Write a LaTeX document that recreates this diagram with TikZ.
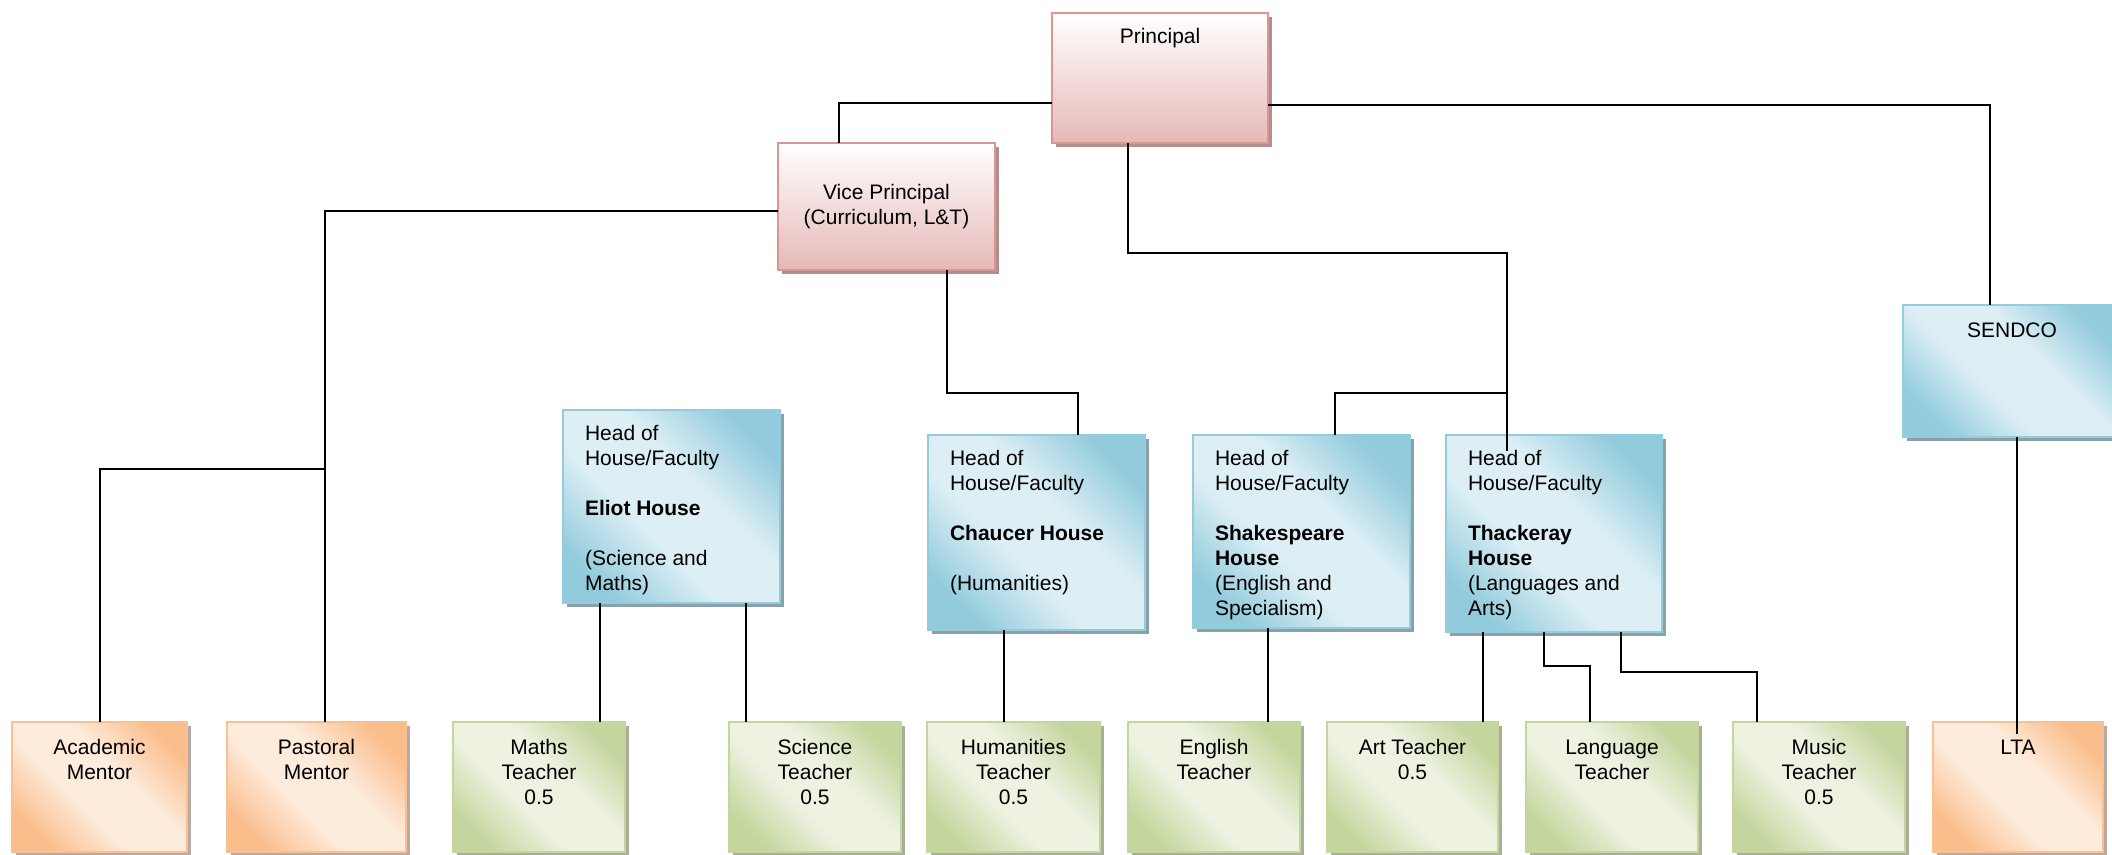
\documentclass[tikz,border=0pt]{standalone}
\usepackage{fontspec}
\setmainfont{Liberation Sans}
\usetikzlibrary{shadows}

\definecolor{pkb}{RGB}{217,150,148}
\definecolor{pkd}{RGB}{230,184,183}
\definecolor{pksh}{RGB}{178,142,142}
\definecolor{blb}{RGB}{147,205,221}
\definecolor{bld}{RGB}{146,203,220}
\definecolor{bll}{RGB}{221,239,245}
\definecolor{blsh}{RGB}{140,160,170}
\definecolor{grb}{RGB}{195,214,155}
\definecolor{grd}{RGB}{196,214,158}
\definecolor{grl}{RGB}{237,242,225}
\definecolor{grsh}{RGB}{168,174,152}
\definecolor{orb}{RGB}{250,192,144}
\definecolor{ord}{RGB}{250,190,140}
\definecolor{orl}{RGB}{253,235,220}
\definecolor{orsh}{RGB}{184,170,162}

\pgfdeclarehorizontalshading{blueshade}{100bp}{color(0bp)=(bld); color(24bp)=(bld); color(42bp)=(bll); color(58bp)=(bll); color(76bp)=(bld); color(100bp)=(bld)}
\pgfdeclarehorizontalshading{greenshade}{100bp}{color(0bp)=(grd); color(24bp)=(grd); color(42bp)=(grl); color(58bp)=(grl); color(76bp)=(grd); color(100bp)=(grd)}
\pgfdeclarehorizontalshading{orangeshade}{100bp}{color(0bp)=(ord); color(24bp)=(ord); color(42bp)=(orl); color(58bp)=(orl); color(76bp)=(ord); color(100bp)=(ord)}

\newcommand{\ctext}[4]{\parbox[c][#1][t]{#2}{\centering\vspace*{#3}\strut #4}}
\newcommand{\ltext}[3]{\parbox[c][#1][t]{#2}{\raggedright\leftskip=11pt\vspace*{6.25pt}\strut #3}}

\tikzset{
  boxbase/.style={rectangle, inner sep=0pt, outer sep=0pt, anchor=north west, line width=0.8pt},
  dims/.style 2 args={minimum width=#1, minimum height=#2},
  pinkbox/.style={boxbase, draw=pkb, top color=white, bottom color=pkd,
    drop shadow={shadow xshift=2pt, shadow yshift=-2pt, fill=pksh, opacity=1}},
  bluebox/.style={boxbase, draw=blb, shading=blueshade, shading angle=45,
    drop shadow={shadow xshift=2pt, shadow yshift=-2pt, fill=blsh, opacity=1}},
  greenbox/.style={boxbase, draw=grb, shading=greenshade, shading angle=45,
    drop shadow={shadow xshift=2pt, shadow yshift=-2pt, fill=grsh, opacity=1}},
  orangebox/.style={boxbase, draw=orb, shading=orangeshade, shading angle=45,
    drop shadow={shadow xshift=2pt, shadow yshift=-2pt, fill=orsh, opacity=1}},
  conn/.style={draw=black, line width=0.9pt}
}

\begin{document}
\begin{tikzpicture}[x=0.5pt, y=-0.5pt, font=\fontsize{10.5pt}{12.5pt}\selectfont]
\fill[white] (0,0) rectangle (2112,855);
\useasboundingbox (0,0) rectangle (2112,855);

% top level
\node[pinkbox, dims={108pt}{65pt}] (P) at (1052,13) {\ctext{65pt}{108pt}{6.75pt}{Principal}};
\node[pinkbox, dims={108.5pt}{63.5pt}] (VP) at (778,143) {\ctext{63.5pt}{108.5pt}{19.5pt}{Vice Principal\\(Curriculum, L\&T)}};

% heads of house
\node[bluebox, dims={108.5pt}{96.5pt}] (EL) at (563,410) {\ltext{96.5pt}{108.5pt}{Head of\\House/Faculty\\[12.5pt]\textbf{Eliot House}\\[12.5pt](Science and\\Maths)}};
\node[bluebox, dims={108.5pt}{97.5pt}] (CH) at (928,435) {\ltext{97.5pt}{108.5pt}{Head of\\House/Faculty\\[12.5pt]\textbf{Chaucer House}\\[12.5pt](Humanities)}};
\node[bluebox, dims={108.5pt}{96.5pt}] (SH) at (1193,435) {\ltext{96.5pt}{108.5pt}{Head of\\House/Faculty\\[12.5pt]\textbf{Shakespeare}\\\textbf{House}\\(English and\\Specialism)}};
\node[bluebox, dims={108pt}{98.5pt}] (TH) at (1446,435) {\ltext{98.5pt}{108pt}{Head of\\House/Faculty\\[12.5pt]\textbf{Thackeray}\\\textbf{House}\\(Languages and\\Arts)}};
\node[bluebox, dims={109pt}{66pt}] (SE) at (1903,305) {\ctext{66pt}{109pt}{7.25pt}{SENDCO}};

% bottom row
\node[orangebox, dims={87.5pt}{65pt}] (AM) at (12,722) {\ctext{65pt}{87.5pt}{7.25pt}{Academic\\Mentor}};
\node[orangebox, dims={89.5pt}{65pt}] (PM) at (227,722) {\ctext{65pt}{89.5pt}{7.25pt}{Pastoral\\Mentor}};
\node[greenbox, dims={86pt}{65pt}] (MT) at (453,722) {\ctext{65pt}{86pt}{7.25pt}{Maths\\Teacher\\0.5}};
\node[greenbox, dims={86pt}{65pt}] (ST) at (729,722) {\ctext{65pt}{86pt}{7.25pt}{Science\\Teacher\\0.5}};
\node[greenbox, dims={86.5pt}{65pt}] (HT) at (927,722) {\ctext{65pt}{86.5pt}{7.25pt}{Humanities\\Teacher\\0.5}};
\node[greenbox, dims={86pt}{65pt}] (ET) at (1128,722) {\ctext{65pt}{86pt}{7.25pt}{English\\Teacher}};
\node[greenbox, dims={85.5pt}{65pt}] (AT) at (1327,722) {\ctext{65pt}{85.5pt}{7.25pt}{Art Teacher\\0.5}};
\node[greenbox, dims={86pt}{65pt}] (LT) at (1526,722) {\ctext{65pt}{86pt}{7.25pt}{Language\\Teacher}};
\node[greenbox, dims={86pt}{65pt}] (MU) at (1733,722) {\ctext{65pt}{86pt}{7.25pt}{Music\\Teacher\\0.5}};
\node[orangebox, dims={85pt}{65pt}] (LA) at (1933,722) {\ctext{65pt}{85pt}{7.25pt}{LTA}};

% junctions
\coordinate (j1) at (1507,393);
\coordinate (j2) at (325,469);

% connectors
\draw[conn] ([yshift=-12.5pt]P.west) -| ([xshift=30.5pt]VP.north west);
\draw[conn] ([yshift=-13.5pt]P.east) -| ([xshift=43.5pt]SE.north west);
\draw[conn] ([xshift=38pt]P.south west) -- ++(0,110) -| ([xshift=30.5pt,yshift=-8pt]TH.north west);
\draw[conn] ([xshift=71pt]SH.north west) |- (j1);
\draw[conn] ([yshift=-2.25pt]VP.west) -| ([xshift=49pt]PM.north west);
\draw[conn] (j2) -| ([xshift=44pt]AM.north west);
\draw[conn] ([xshift=84.5pt]VP.south west) -- ++(0,123) -| ([xshift=75pt]CH.north west);
\draw[conn] ([xshift=18.5pt]EL.south west) -- ([xshift=73.5pt]MT.north west);
\draw[conn] ([xshift=91.5pt]EL.south west) -- ([xshift=8.5pt]ST.north west);
\draw[conn] ([xshift=38pt]CH.south west) -- ([xshift=38.5pt]HT.north west);
\draw[conn] ([xshift=37.5pt]SH.south west) -- ([xshift=70pt]ET.north west);
\draw[conn] ([xshift=18.5pt]TH.south west) -- ([xshift=78pt]AT.north west);
\draw[conn] ([xshift=49pt]TH.south west) -- ++(0,34) -| ([xshift=32pt]LT.north west);
\draw[conn] ([xshift=87.5pt]TH.south west) -- ++(0,40) -| ([xshift=12pt]MU.north west);
\draw[conn] ([xshift=57pt]SE.south west) -- ([xshift=42pt,yshift=-6pt]LA.north west);
\end{tikzpicture}
\end{document}
